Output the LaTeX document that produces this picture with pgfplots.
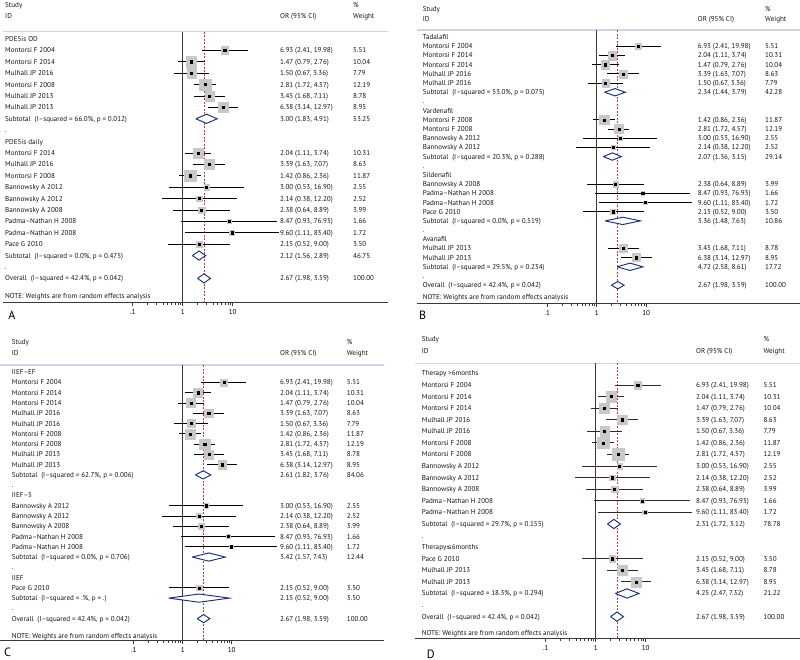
\documentclass[border=0pt]{standalone}
\usepackage{fontspec}
\setmainfont{PT Sans}
\newfontfamily\dejavu{DejaVu Sans}
\usepackage{pgfplots}
\usepackage{pgfplotstable}
\pgfplotsset{compat=1.18}
\definecolor{sq}{RGB}{200,200,200}
\definecolor{dia}{RGB}{28,48,120}
\definecolor{refred}{RGB}{200,60,55}
\definecolor{sepc}{RGB}{205,214,228}
\definecolor{axc}{RGB}{55,58,68}
\definecolor{cid}{RGB}{62,36,33}

\tikzset{T/.style={anchor=west, inner sep=0pt, text height=5pt, text depth=0pt, font=\fontsize{7.1}{8}\selectfont, text=black!92}}
\pgfplotsset{
 forestax/.style={scale only axis, anchor=south west, clip=false,
   colormap={greyonly}{rgb255=(200,200,200) rgb255=(200,200,200)},
   axis x line*=bottom, axis y line=none,
   xtick={0.1,1,10}, xticklabels={.1,1,10}, minor x tick num=0,
   tick align=outside, major tick length=3.5pt,
   x axis line style={axc, line width=0.9pt}, xtick style={axc, line width=0.6pt},
   ticklabel style={font=\fontsize{7.1}{8}\selectfont},
   /pgf/number format/assume math mode=true},
 sqs/.style={scatter, only marks, mark=square*,
   scatter/use mapped color={draw=sq, fill=sq},
   visualization depends on={#1*sqrt(\thisrow{w}) \as \ms},
   scatter/@pre marker code/.append style={/tikz/mark size=\ms}},
 cis/.style={only marks, mark=square*, mark size=1.1pt, mark options={fill=black, draw=black},
   error bars/.cd, x dir=both, x explicit, error mark=none, error bar style={line width=0.8pt, #1}},
}
\newcommand{\R}[4]{%
 \node[T, xshift=\nx pt] at ({rel axis cs:0,0}|-{axis cs:1,#1}) {#2};
 \node[T, xshift=\ox pt] at ({rel axis cs:0,0}|-{axis cs:1,#1}) {#3};
 \node[T, xshift=\wx pt] at ({rel axis cs:0,0}|-{axis cs:1,#1}) {#4};}
\newcommand{\G}[2]{\node[T, xshift=\nx pt] at ({rel axis cs:0,0}|-{axis cs:1,#1}) {#2};}
\newcommand{\Hd}[2]{%
 \node[T, xshift=\nx pt] at ({rel axis cs:0,0}|-{axis cs:1,#1}) {Study};
 \node[T, xshift=\wx pt] at ({rel axis cs:0,0}|-{axis cs:1,#1}) {\%};
 \node[T, xshift=\nx pt] at ({rel axis cs:0,0}|-{axis cs:1,#2}) {ID};
 \node[T, xshift=\ox pt] at ({rel axis cs:0,0}|-{axis cs:1,#2}) {OR (95\% CI)};
 \node[T, xshift=\wx pt] at ({rel axis cs:0,0}|-{axis cs:1,#2}) {Weight};}
\newcommand{\Sep}[1]{\draw[sepc, line width=1.2pt] ({rel axis cs:0,0}|-{axis cs:1,#1}) -- ({rel axis cs:1,0}|-{axis cs:1,#1});}
\newcommand{\Dm}[6]{\addplot[dia, line width=0.95pt, fill=white, line join=miter] coordinates {(#4,#1)(#5,#2)(#6,#1)(#5,#3)(#4,#1)};}

% ---------- data: y = -row, OR, lower, upper, weight ----------
\pgfplotstableread{
y or lo hi w
-1 6.93 2.41 19.98 5.51
-2 1.47 0.79 2.76 10.04
-3 1.50 0.67 3.36 7.79
-4 2.81 1.72 4.57 12.19
-5 3.45 1.68 7.11 8.78
-6 6.38 3.14 12.97 8.95
-10 2.04 1.11 3.74 10.31
-11 3.39 1.63 7.07 8.63
-12 1.42 0.86 2.36 11.87
-13 3.00 0.53 16.90 2.55
-14 2.14 0.38 12.20 2.52
-15 2.38 0.64 8.89 3.99
-16 8.47 0.93 76.93 1.66
-17 9.60 1.11 83.40 1.72
-18 2.15 0.52 9.00 3.50
}\tA
\pgfplotstableread{
y or lo hi w
-1 6.93 2.41 19.98 5.51
-2 2.04 1.11 3.74 10.31
-3 1.47 0.79 2.76 10.04
-4 3.39 1.63 7.07 8.63
-5 1.50 0.67 3.36 7.79
-9 1.42 0.86 2.36 11.87
-10 2.81 1.72 4.57 12.19
-11 3.00 0.53 16.90 2.55
-12 2.14 0.38 12.20 2.52
-16 2.38 0.64 8.89 3.99
-17 8.47 0.93 76.93 1.66
-18 9.60 1.11 83.40 1.72
-19 2.15 0.52 9.00 3.50
-23 3.45 1.68 7.11 8.78
-24 6.38 3.14 12.97 8.95
}\tB
\pgfplotstableread{
y or lo hi w
-1 6.93 2.41 19.98 5.51
-2 2.04 1.11 3.74 10.31
-3 1.47 0.79 2.76 10.04
-4 3.39 1.63 7.07 8.63
-5 1.50 0.67 3.36 7.79
-6 1.42 0.86 2.36 11.87
-7 2.81 1.72 4.57 12.19
-8 3.45 1.68 7.11 8.78
-9 6.38 3.14 12.97 8.95
-13 3.00 0.53 16.90 2.55
-14 2.14 0.38 12.20 2.52
-15 2.38 0.64 8.89 3.99
-16 8.47 0.93 76.93 1.66
-17 9.60 1.11 83.40 1.72
-21 2.15 0.52 9.00 3.50
}\tC
\pgfplotstableread{
y or lo hi w
-1 6.93 2.41 19.98 5.51
-2 2.04 1.11 3.74 10.31
-3 1.47 0.79 2.76 10.04
-4 3.39 1.63 7.07 8.63
-5 1.50 0.67 3.36 7.79
-6 1.42 0.86 2.36 11.87
-7 2.81 1.72 4.57 12.19
-8 3.00 0.53 16.90 2.55
-9 2.14 0.38 12.20 2.52
-10 2.38 0.64 8.89 3.99
-11 8.47 0.93 76.93 1.66
-12 9.60 1.11 83.40 1.72
-16 2.15 0.52 9.00 3.50
-17 3.45 1.68 7.11 8.78
-18 6.38 3.14 12.97 8.95
}\tD

\begin{document}
\begin{tikzpicture}
\useasboundingbox (0,0) rectangle (800pt,-660pt);

% ================= Panel A =================
\def\nx{2}\def\ox{277}\def\wx{350}
\begin{axis}[forestax, xmode=log, at={(3pt,-302pt)}, width=385pt, height=302pt,
  xmin=2.547e-4, xmax=12764, ymin=-23.07, ymax=3.42]
\Sep{0.64}
\addplot[axc, line width=0.9pt] coordinates {(1,0.64)(1,-23.07)};
\addplot[refred, line width=0.7pt, dash pattern=on 2pt off 1.5pt] coordinates {(2.67,0.64)(2.67,-23.07)};
\addplot[sqs=1.63] table[x=or, y=y] {\tA};
\addplot[cis=black] table[x=or, y=y, x error plus expr=\thisrow{hi}-\thisrow{or}, x error minus expr=\thisrow{or}-\thisrow{lo}] {\tA};
\Dm{-7}{-6.6}{-7.4}{1.83}{3.00}{4.91}
\Dm{-19}{-18.6}{-19.4}{1.56}{2.12}{2.89}
\Dm{-21}{-20.6}{-21.4}{1.98}{2.67}{3.59}
\Hd{2.98}{2.02}
\G{0}{PDE5is OD}
\R{-1}{Montorsi F 2004}{6.93 (2.41, 19.98)}{5.51}
\R{-2}{Montorsi F 2014}{1.47 (0.79, 2.76)}{10.04}
\R{-3}{Mulhall JP 2016}{1.50 (0.67, 3.36)}{7.79}
\R{-4}{Montorsi F 2008}{2.81 (1.72, 4.57)}{12.19}
\R{-5}{Mulhall JP 2013}{3.45 (1.68, 7.11)}{8.78}
\R{-6}{Mulhall JP 2013}{6.38 (3.14, 12.97)}{8.95}
\R{-7}{Subtotal\ \ (I--squared = 66.0\%, p = 0.012)}{3.00 (1.83, 4.91)}{53.25}
\G{-8}{.}
\G{-9}{PDE5is daily}
\R{-10}{Montorsi F 2014}{2.04 (1.11, 3.74)}{10.31}
\R{-11}{Mulhall JP 2016}{3.39 (1.63, 7.07)}{8.63}
\R{-12}{Montorsi F 2008}{1.42 (0.86, 2.36)}{11.87}
\R{-13}{Bannowsky A 2012}{3.00 (0.53, 16.90)}{2.55}
\R{-14}{Bannowsky A 2012}{2.14 (0.38, 12.20)}{2.52}
\R{-15}{Bannowsky A 2008}{2.38 (0.64, 8.89)}{3.99}
\R{-16}{Padma--Nathan H 2008}{8.47 (0.93, 76.93)}{1.66}
\R{-17}{Padma--Nathan H 2008}{9.60 (1.11, 83.40)}{1.72}
\R{-18}{Pace G 2010}{2.15 (0.52, 9.00)}{3.50}
\R{-19}{Subtotal\ \ (I--squared = 0.0\%, p = 0.475)}{2.12 (1.56, 2.89)}{46.75}
\G{-20}{.}
\R{-21}{Overall\ \ (I--squared = 42.4\%, p = 0.042)}{2.67 (1.98, 3.59)}{100.00}
\G{-22.54}{NOTE: Weights are from random effects analysis}
\node[anchor=west, inner sep=0pt, xshift=5.3pt, yshift=-13.7pt, font=\fontsize{12}{12}\selectfont] at (rel axis cs:0,0) {A};
\end{axis}

% ================= Panel B =================
\def\nx{5.7}\def\ox{280.7}\def\wx{348}
\begin{axis}[forestax, xmode=log, at={(417pt,-303.3pt)}, width=383pt, height=303.3pt,
  xmin=2.343e-4, xmax=12797, ymin=-28.97, ymax=4.04]
\Sep{0.77}
\addplot[axc, line width=0.9pt] coordinates {(1,0.77)(1,-28.97)};
\addplot[refred, line width=0.7pt, dash pattern=on 2pt off 1.5pt] coordinates {(2.67,0.77)(2.67,-28.97)};
\addplot[sqs=1.32] table[x=or, y=y] {\tB};
\addplot[cis=black] table[x=or, y=y, x error plus expr=\thisrow{hi}-\thisrow{or}, x error minus expr=\thisrow{or}-\thisrow{lo}] {\tB};
\Dm{-6}{-5.6}{-6.4}{1.44}{2.34}{3.79}
\Dm{-13}{-12.6}{-13.4}{1.36}{2.07}{3.15}
\Dm{-20}{-19.6}{-20.4}{1.48}{3.36}{7.63}
\Dm{-25}{-24.6}{-25.4}{2.58}{4.72}{8.61}
\Dm{-27}{-26.6}{-27.4}{1.98}{2.67}{3.59}
\Hd{3.02}{1.97}
\G{0}{Tadalafil}
\R{-1}{Montorsi F 2004}{6.93 (2.41, 19.98)}{5.51}
\R{-2}{Montorsi F 2014}{2.04 (1.11, 3.74)}{10.31}
\R{-3}{Montorsi F 2014}{1.47 (0.79, 2.76)}{10.04}
\R{-4}{Mulhall JP 2016}{3.39 (1.63, 7.07)}{8.63}
\R{-5}{Mulhall JP 2016}{1.50 (0.67, 3.36)}{7.79}
\R{-6}{Subtotal\ \ (I--squared = 53.0\%, p = 0.075)}{2.34 (1.44, 3.79)}{42.28}
\G{-7}{.}
\G{-8}{Vardenafil}
\R{-9}{Montorsi F 2008}{1.42 (0.86, 2.36)}{11.87}
\R{-10}{Montorsi F 2008}{2.81 (1.72, 4.57)}{12.19}
\R{-11}{Bannowsky A 2012}{3.00 (0.53, 16.90)}{2.55}
\R{-12}{Bannowsky A 2012}{2.14 (0.38, 12.20)}{2.52}
\R{-13}{Subtotal\ \ (I--squared = 20.3\%, p = 0.288)}{2.07 (1.36, 3.15)}{29.14}
\G{-14}{.}
\G{-15}{Sildenafil}
\R{-16}{Bannowsky A 2008}{2.38 (0.64, 8.89)}{3.99}
\R{-17}{Padma--Nathan H 2008}{8.47 (0.93, 76.93)}{1.66}
\R{-18}{Padma--Nathan H 2008}{9.60 (1.11, 83.40)}{1.72}
\R{-19}{Pace G 2010}{2.15 (0.52, 9.00)}{3.50}
\R{-20}{Subtotal\ \ (I--squared = 0.0\%, p = 0.519)}{3.36 (1.48, 7.63)}{10.86}
\G{-21}{.}
\G{-22}{Avanafil}
\R{-23}{Mulhall JP 2013}{3.45 (1.68, 7.11)}{8.78}
\R{-24}{Mulhall JP 2013}{6.38 (3.14, 12.97)}{8.95}
\R{-25}{Subtotal\ \ (I--squared = 29.5\%, p = 0.234)}{4.72 (2.58, 8.61)}{17.72}
\G{-26}{.}
\R{-27}{Overall\ \ (I--squared = 42.4\%, p = 0.042)}{2.67 (1.98, 3.59)}{100.00}
\G{-28.28}{NOTE: Weights are from random effects analysis}
\node[anchor=west, inner sep=0pt, xshift=2pt, yshift=-11.7pt, font=\fontsize{12}{12}\selectfont] at (rel axis cs:0,0) {B};
\end{axis}

% ================= Panel C =================
\def\nx{11.7}\def\ox{280}\def\wx{346.7}
\begin{axis}[forestax, xmode=log, at={(0pt,-640pt)}, width=384pt, height=310pt,
  xmin=1.868e-4, xmax=12830, ymin=-26.08, ymax=4.11]
\Sep{0.70}
\addplot[axc, line width=0.9pt] coordinates {(1,0.70)(1,-26.08)};
\addplot[refred, line width=0.7pt, dash pattern=on 2pt off 1.5pt] coordinates {(2.67,0.70)(2.67,-26.08)};
\addplot[sqs=1.47] table[x=or, y=y] {\tC};
\addplot[cis=black] table[x=or, y=y, x error plus expr=\thisrow{hi}-\thisrow{or}, x error minus expr=\thisrow{or}-\thisrow{lo}] {\tC};
\Dm{-10}{-9.6}{-10.4}{1.82}{2.61}{3.76}
\Dm{-18}{-17.6}{-18.4}{1.57}{3.42}{7.43}
\Dm{-22}{-21.6}{-22.4}{0.52}{2.15}{9.00}
\Dm{-24}{-23.6}{-24.4}{1.98}{2.67}{3.59}
\Hd{2.91}{1.84}
\G{0}{IIEF--EF}
\R{-1}{Montorsi F 2004}{6.93 (2.41, 19.98)}{5.51}
\R{-2}{Montorsi F 2014}{2.04 (1.11, 3.74)}{10.31}
\R{-3}{Montorsi F 2014}{1.47 (0.79, 2.76)}{10.04}
\R{-4}{Mulhall JP 2016}{3.39 (1.63, 7.07)}{8.63}
\R{-5}{Mulhall JP 2016}{1.50 (0.67, 3.36)}{7.79}
\R{-6}{Montorsi F 2008}{1.42 (0.86, 2.36)}{11.87}
\R{-7}{Montorsi F 2008}{2.81 (1.72, 4.57)}{12.19}
\R{-8}{Mulhall JP 2013}{3.45 (1.68, 7.11)}{8.78}
\R{-9}{Mulhall JP 2013}{6.38 (3.14, 12.97)}{8.95}
\R{-10}{Subtotal\ \ (I--squared = 62.7\%, p = 0.006)}{2.61 (1.82, 3.76)}{84.06}
\G{-11}{.}
\G{-12}{IIEF--5}
\R{-13}{Bannowsky A 2012}{3.00 (0.53, 16.90)}{2.55}
\R{-14}{Bannowsky A 2012}{2.14 (0.38, 12.20)}{2.52}
\R{-15}{Bannowsky A 2008}{2.38 (0.64, 8.89)}{3.99}
\R{-16}{Padma--Nathan H 2008}{8.47 (0.93, 76.93)}{1.66}
\R{-17}{Padma--Nathan H 2008}{9.60 (1.11, 83.40)}{1.72}
\R{-18}{Subtotal\ \ (I--squared = 0.0\%, p = 0.706)}{3.42 (1.57, 7.43)}{12.44}
\G{-19}{.}
\G{-20}{IIEF}
\R{-21}{Pace G 2010}{2.15 (0.52, 9.00)}{3.50}
\R{-22}{Subtotal\ \ (I--squared = .\%, p = .)}{2.15 (0.52, 9.00)}{3.50}
\G{-23}{.}
\R{-24}{Overall\ \ (I--squared = 42.4\%, p = 0.042)}{2.67 (1.98, 3.59)}{100.00}
\G{-25.66}{NOTE: Weights are from random effects analysis}
\node[anchor=west, inner sep=0pt, xshift=4pt, yshift=-12.7pt, font=\fontsize{12}{12}\selectfont] at (rel axis cs:0,0) {C};
\end{axis}

% ================= Panel D =================
\def\nx{6.7}\def\ox{281}\def\wx{348.3}
\begin{axis}[forestax, xmode=log, at={(415pt,-638.3pt)}, width=385pt, height=308.3pt,
  xmin=2.432e-4, xmax=12190, ymin=-22.87, ymax=3.746]
\Sep{0.87}
\addplot[axc, line width=0.9pt] coordinates {(1,0.87)(1,-22.87)};
\addplot[refred, line width=0.7pt, dash pattern=on 2pt off 1.5pt] coordinates {(2.67,0.87)(2.67,-22.87)};
\addplot[sqs=1.66] table[x=or, y=y] {\tD};
\addplot[cis=cid] table[x=or, y=y, x error plus expr=\thisrow{hi}-\thisrow{or}, x error minus expr=\thisrow{or}-\thisrow{lo}] {\tD};
\Dm{-13}{-12.6}{-13.4}{1.72}{2.31}{3.12}
\Dm{-19}{-18.6}{-19.4}{2.47}{4.25}{7.32}
\Dm{-21}{-20.6}{-21.4}{1.98}{2.67}{3.59}
\Hd{2.94}{1.96}
\G{0}{Therapy >6months}
\R{-1}{Montorsi F 2004}{6.93 (2.41, 19.98)}{5.51}
\R{-2}{Montorsi F 2014}{2.04 (1.11, 3.74)}{10.31}
\R{-3}{Montorsi F 2014}{1.47 (0.79, 2.76)}{10.04}
\R{-4}{Mulhall JP 2016}{3.39 (1.63, 7.07)}{8.63}
\R{-5}{Mulhall JP 2016}{1.50 (0.67, 3.36)}{7.79}
\R{-6}{Montorsi F 2008}{1.42 (0.86, 2.36)}{11.87}
\R{-7}{Montorsi F 2008}{2.81 (1.72, 4.57)}{12.19}
\R{-8}{Bannowsky A 2012}{3.00 (0.53, 16.90)}{2.55}
\R{-9}{Bannowsky A 2012}{2.14 (0.38, 12.20)}{2.52}
\R{-10}{Bannowsky A 2008}{2.38 (0.64, 8.89)}{3.99}
\R{-11}{Padma--Nathan H 2008}{8.47 (0.93, 76.93)}{1.66}
\R{-12}{Padma--Nathan H 2008}{9.60 (1.11, 83.40)}{1.72}
\R{-13}{Subtotal\ \ (I--squared = 29.7\%, p = 0.155)}{2.31 (1.72, 3.12)}{78.78}
\G{-14}{.}
\G{-15}{Therapy{\dejavu\fontsize{6.5}{8}\selectfont ≤}6months}
\R{-16}{Pace G 2010}{2.15 (0.52, 9.00)}{3.50}
\R{-17}{Mulhall JP 2013}{3.45 (1.68, 7.11)}{8.78}
\R{-18}{Mulhall JP 2013}{6.38 (3.14, 12.97)}{8.95}
\R{-19}{Subtotal\ \ (I--squared = 18.3\%, p = 0.294)}{4.25 (2.47, 7.32)}{21.22}
\G{-20}{.}
\R{-21}{Overall\ \ (I--squared = 42.4\%, p = 0.042)}{2.67 (1.98, 3.59)}{100.00}
\G{-22.43}{NOTE: Weights are from random effects analysis}
\node[anchor=west, inner sep=0pt, xshift=11.7pt, yshift=-15.7pt, font=\fontsize{12}{12}\selectfont] at (rel axis cs:0,0) {D};
\end{axis}
\end{tikzpicture}
\end{document}
